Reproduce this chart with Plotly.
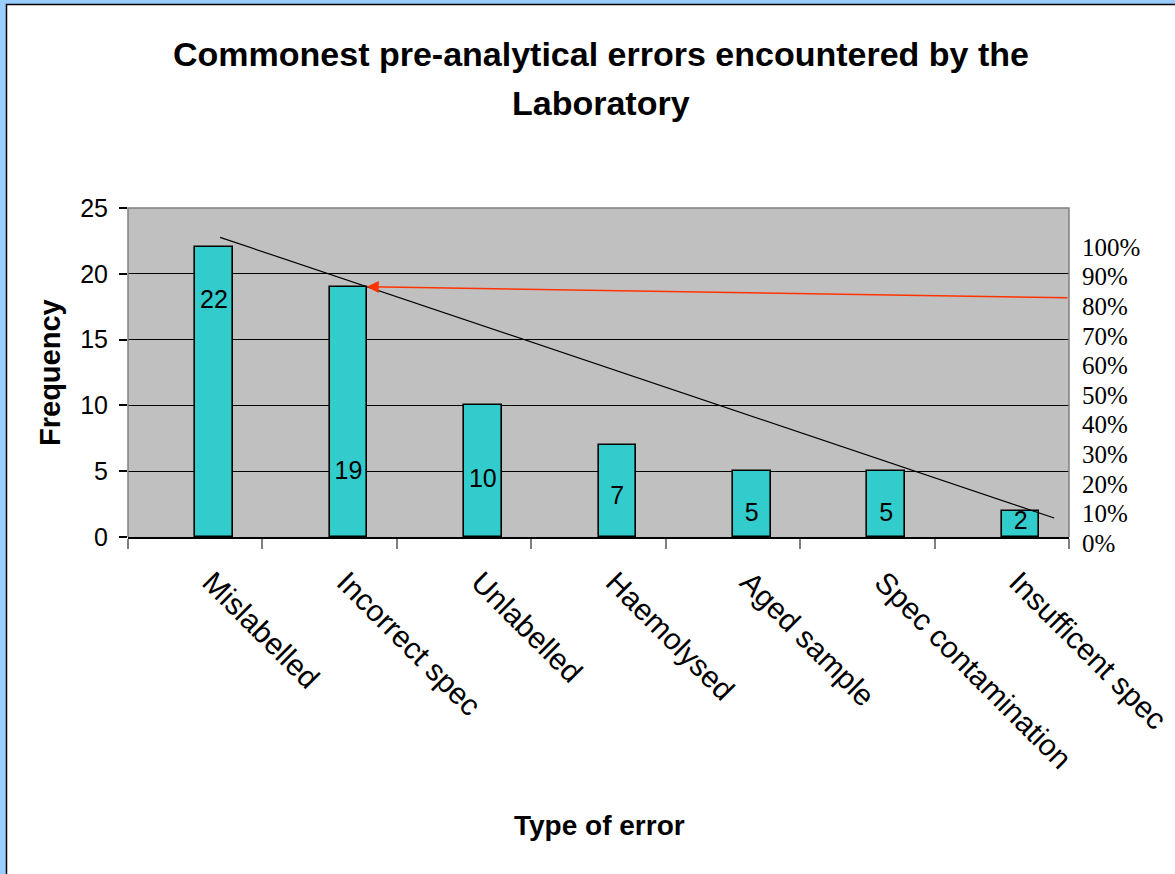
import plotly.graph_objects as go

# ---- data -------------------------------------------------------------
categories = [
    "Mislabelled",
    "Incorrect spec",
    "Unlabelled",
    "Haemolysed",
    "Aged sample",
    "Spec contamination",
    "Insufficent spec",
]
frequency = [22, 19, 10, 7, 5, 5, 2]

# height (in frequency units) at which each bar's value label sits
label_height = [17.9, 4.9, 4.3, 3.0, 1.7, 1.7, 1.1]

# cumulative-percentage scale on the right
percent_ticks = [0, 10, 20, 30, 40, 50, 60, 70, 80, 90, 100]

# hand-drawn trend line (x in category-index units, y in frequency units)
trend_x = [0.185, 6.39]
trend_y = [22.77, 1.44]

# red pointer: head on the "Incorrect spec" bar, tail at the right edge
arrow_head_x, arrow_head_y = 1.276, 19.02
arrow_tail_x, arrow_tail_y = 6.5, 18.18

# ---- page geometry ----------------------------------------------------
W, H = 1175, 874
ML, MR, MT, MB = 128, 106, 208, 329
PLOT_BOTTOM = 537          # pixel row of the frequency axis (value 0)
PCT_0, PCT_100 = 543, 247  # pixel rows of the 0% and 100% labels


def px_x(p):
    return (p - ML) / (W - ML - MR)


def px_y(p):
    return (H - MB - p) / (H - MT - MB)


SANS = "Liberation Sans, Arial, sans-serif"
SERIF = "Liberation Serif, Times New Roman, serif"
BAR_W = 0.28

fig = go.Figure()

fig.add_trace(go.Bar(
    x=categories,
    y=frequency,
    width=BAR_W,
    offset=0,
    marker=dict(color="#33CCCC", line=dict(color="black", width=1.6)),
    hoverinfo="x+y",
    showlegend=False,
))

fig.add_trace(go.Scatter(
    x=trend_x,
    y=trend_y,
    mode="lines",
    line=dict(color="black", width=1.2),
    xaxis="x2",
    yaxis="y",
    hoverinfo="skip",
    showlegend=False,
))

fig.add_trace(go.Scatter(
    x=[i + BAR_W / 2 for i in range(len(frequency))],
    y=label_height,
    text=[str(v) for v in frequency],
    mode="text",
    textfont=dict(family=SANS, size=25, color="black"),
    xaxis="x2",
    yaxis="y",
    hoverinfo="skip",
    showlegend=False,
))

# empty trace so the percentage axis gets its own subplot
fig.add_trace(go.Scatter(x=[], y=[], xaxis="x", yaxis="y2",
                         hoverinfo="skip", showlegend=False))

shapes = [
    # white chart sheet with a black edge over the blue page
    dict(type="rect", xref="paper", yref="paper",
         x0=px_x(6.5), y0=px_y(4.5), x1=px_x(1220), y1=px_y(920),
         fillcolor="white", line=dict(color="black", width=1.5), layer="below"),
    # grey plot area
    dict(type="rect", xref="x domain", yref="y domain",
         x0=0, y0=0, x1=1, y1=1,
         fillcolor="#C0C0C0", line=dict(width=0), layer="below"),
    # grey frame on left, top and right
    dict(type="path", xref="x domain", yref="y domain",
         path="M 0,0 L 0,1 L 1,1 L 1,0",
         line=dict(color="#808080", width=1.5), layer="above"),
]

annotations = [
    dict(text="Commonest pre-analytical errors encountered by the",
         xref="paper", yref="paper", x=px_x(601), y=px_y(54),
         xanchor="center", yanchor="middle", showarrow=False,
         font=dict(family=SANS, size=34, color="black", weight="bold")),
    dict(text="Laboratory",
         xref="paper", yref="paper", x=px_x(601), y=px_y(103),
         xanchor="center", yanchor="middle", showarrow=False,
         font=dict(family=SANS, size=34, color="black", weight="bold")),
    dict(text="Frequency",
         xref="paper", yref="paper", x=px_x(50), y=px_y(373),
         xanchor="center", yanchor="middle", showarrow=False, textangle=-90,
         font=dict(family=SANS, size=29, color="black", weight="bold")),
    dict(text="Type of error",
         xref="paper", yref="paper", x=px_x(599), y=px_y(825),
         xanchor="center", yanchor="middle", showarrow=False,
         font=dict(family=SANS, size=28, color="black", weight="bold")),
    dict(text="", x=arrow_head_x, y=arrow_head_y, xref="x2", yref="y",
         ax=arrow_tail_x, ay=arrow_tail_y, axref="x2", ayref="y",
         showarrow=True, arrowhead=2, arrowsize=1.6, arrowwidth=1.5,
         arrowcolor="#FF3300", standoff=0),
]

fig.update_layout(
    width=W,
    height=H,
    autosize=False,
    margin=dict(l=ML, r=MR, t=MT, b=MB, pad=0, autoexpand=False),
    paper_bgcolor="#99CCFF",
    plot_bgcolor="rgba(0,0,0,0)",
    showlegend=False,
    bargap=0,
    shapes=shapes,
    annotations=annotations,
    xaxis=dict(
        type="category",
        categoryorder="array",
        categoryarray=categories,
        range=[-0.5, len(categories) - 0.5],
        anchor="y",
        automargin=False,
        tickson="boundaries",
        ticks="outside",
        ticklen=10,
        tickwidth=1.5,
        tickcolor="#808080",
        showline=True,
        linecolor="black",
        linewidth=1.5,
        showgrid=False,
        tickangle=45,
        tickfont=dict(family=SANS, size=30, color="black"),
        ticklabelstandoff=14,
        ticklabelshift=16,
        fixedrange=True,
    ),
    xaxis2=dict(
        overlaying="x",
        anchor="y",
        range=[-0.5, len(categories) - 0.5],
        visible=False,
        automargin=False,
        fixedrange=True,
    ),
    yaxis=dict(
        domain=[px_y(PLOT_BOTTOM), 1],
        range=[0, 25],
        automargin=False,
        tickmode="array",
        tickvals=[0, 5, 10, 15, 20, 25],
        ticks="outside",
        ticklen=8,
        tickwidth=1.5,
        tickcolor="black",
        showline=False,
        showgrid=True,
        gridcolor="black",
        gridwidth=1,
        zeroline=False,
        tickfont=dict(family=SANS, size=25, color="black"),
        ticklabelstandoff=6,
        fixedrange=True,
    ),
    yaxis2=dict(
        anchor="x",
        side="right",
        domain=[px_y(PCT_0), px_y(PCT_100)],
        range=[0, 100],
        automargin=False,
        tickmode="array",
        tickvals=percent_ticks,
        ticktext=[f"{v}%" for v in percent_ticks],
        ticks="",
        showline=False,
        showgrid=False,
        zeroline=False,
        tickfont=dict(family=SERIF, size=25, color="black"),
        ticklabelstandoff=12,
        fixedrange=True,
    ),
)

fig.write_html("out.html", config={"displayModeBar": False})
